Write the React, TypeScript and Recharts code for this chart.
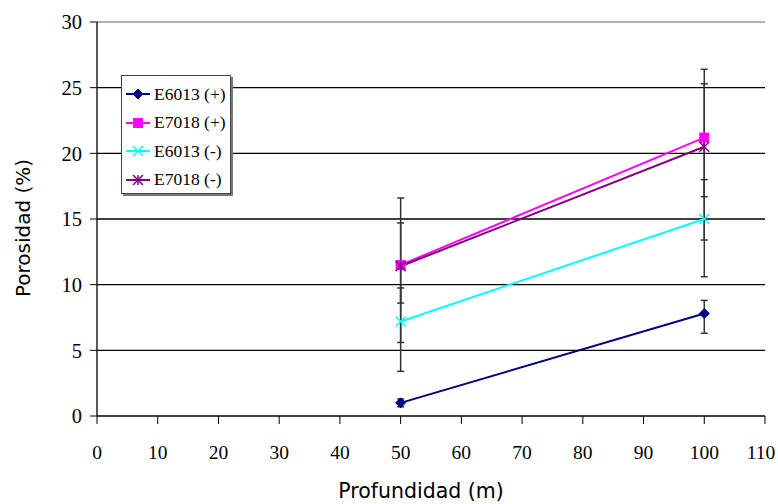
import React from 'react';
import { LineChart, Line, XAxis, YAxis, CartesianGrid, ErrorBar, ReferenceLine } from 'recharts';

const depths = [50, 100];
const e6013Pos = [1.0, 7.8];
const e7018Pos = [11.5, 21.2];
const e6013Neg = [7.2, 15.0];
const e7018Neg = [11.4, 20.5];
// [below, above]
const e6013PosErr = [[0.3, 0.3], [1.5, 1.0]];
const e7018PosErr = [[5.9, 5.1], [4.5, 5.2]];
const e6013NegErr = [[3.8, 2.55], [4.4, 3.0]];
const e7018NegErr = [[2.8, 3.3], [7.1, 4.8]];
const xTicks = [0, 10, 20, 30, 40, 50, 60, 70, 80, 90, 100, 110];
const yTicks = [0, 5, 10, 15, 20, 25, 30];
const seriesNames = ['E6013 (+)', 'E7018 (+)', 'E6013 (-)', 'E7018 (-)'];

const data = depths.map((d, i) => ({
  x: d,
  a: e6013Pos[i], ea: e6013PosErr[i],
  b: e7018Pos[i], eb: e7018PosErr[i],
  c: e6013Neg[i], ec: e6013NegErr[i],
  d: e7018Neg[i], ed: e7018NegErr[i],
}));

const NAVY = '#000080';
const MAGENTA = '#ff00ff';
const CYAN = '#00ffff';
const PURPLE = '#800080';
const SERIF = "'Liberation Serif', 'Times New Roman', 'DejaVu Serif', serif";
const SANS = "'DejaVu Sans', Verdana, sans-serif";

const Diamond = ({ cx, cy }: any) => (
  <polygon points={`${cx},${cy - 5} ${cx + 5},${cy} ${cx},${cy + 5} ${cx - 5},${cy}`} fill={NAVY} stroke={NAVY} />
);
const Square = ({ cx, cy }: any) => (
  <rect x={cx - 4.5} y={cy - 4.5} width={9} height={9} fill={MAGENTA} stroke={MAGENTA} />
);
const Cross = ({ cx, cy }: any) => (
  <g stroke={CYAN} strokeWidth={1.5}>
    <line x1={cx - 5} y1={cy - 5} x2={cx + 5} y2={cy + 5} />
    <line x1={cx - 5} y1={cy + 5} x2={cx + 5} y2={cy - 5} />
  </g>
);
const Star = ({ cx, cy }: any) => (
  <g stroke={PURPLE} strokeWidth={1.5}>
    <line x1={cx - 5} y1={cy - 5} x2={cx + 5} y2={cy + 5} />
    <line x1={cx - 5} y1={cy + 5} x2={cx + 5} y2={cy - 5} />
    <line x1={cx} y1={cy - 5} x2={cx} y2={cy + 5} />
  </g>
);

const markers = [Diamond, Square, Cross, Star];
const colors = [NAVY, MAGENTA, CYAN, PURPLE];

const LegendBox = () => (
  <div
    style={{
      position: 'absolute',
      left: 121,
      top: 75,
      background: '#fff',
      border: '1px solid #444',
      boxShadow: '2px 2px 0 #777',
      width: 110,
      height: 119,
      boxSizing: 'border-box',
      paddingTop: 4,
      fontFamily: SERIF,
      fontSize: 17.5,
      color: '#000',
    }}
  >
    {seriesNames.map((n, i) => {
      const M = markers[i];
      return (
        <div key={n} style={{ display: 'flex', alignItems: 'center', height: 28.5 }}>
          <svg width={28} height={14} style={{ marginLeft: 2, flexShrink: 0 }}>
            <line x1={2} y1={7} x2={26} y2={7} stroke={colors[i]} strokeWidth={2} />
            <M cx={14} cy={7} />
          </svg>
          <span style={{ marginLeft: 2, whiteSpace: 'nowrap' }}>{n}</span>
        </div>
      );
    })}
  </div>
);

const YLabel = () => (
  <text
    x={30}
    y={228}
    transform="rotate(-90 30 228)"
    textAnchor="middle"
    fontFamily={SANS}
    fontSize={20}
    fill="#000"
  >
    Porosidad (%)
  </text>
);

const XLabel = () => (
  <text x={421} y={498} textAnchor="middle" fontFamily={SANS} fontSize={20.5} fill="#000">
    Profundidad (m)
  </text>
);

const XTick = ({ x, y, payload }: any) => (
  <text
    x={x}
    y={y}
    dy="0.71em"
    dx={payload.value === 110 ? -4 : 0}
    textAnchor="middle"
    fill="#000"
    style={{ fontFamily: SERIF, fontSize: 19.5 }}
  >
    {payload.value}
  </text>
);
const YTick = ({ x, y, payload }: any) => (
  <text x={x} y={y} dy="0.355em" textAnchor="end" fill="#000" style={{ fontFamily: SERIF, fontSize: 20.5 }}>
    {payload.value}
  </text>
);

export default function App() {
  const keys = ['a', 'b', 'c', 'd'];
  return (
    <div style={{ position: 'absolute', left: 0, top: 0, width: 778, height: 504, background: '#fff' }}>
      <LineChart width={778} height={504} data={data} margin={{ top: 22, right: 13, bottom: 58, left: 37 }}>
        <CartesianGrid vertical={false} stroke="#000" strokeWidth={1.3} horizontalValues={[5, 10, 15, 20, 25]} />
        <ReferenceLine y={30} stroke="#999" strokeWidth={1.3} />
        <XAxis
          dataKey="x"
          type="number"
          domain={[0, 110]}
          ticks={xTicks}
          interval={0}
          tick={<XTick />}
          tickSize={8}
          tickMargin={21}
          height={30}
          axisLine={{ stroke: '#000', strokeWidth: 1.3 }}
          tickLine={{ stroke: '#000' }}
          label={<XLabel />}
        />
        <YAxis
          type="number"
          domain={[0, 30]}
          ticks={yTicks}
          interval={0}
          width={60}
          tick={<YTick />}
          tickSize={7}
          tickMargin={8}
          axisLine={{ stroke: '#000', strokeWidth: 1.3 }}
          tickLine={{ stroke: '#000' }}
          label={<YLabel />}
        />
        {keys.map((k, i) => {
          const M = markers[i];
          return (
            <Line
              key={k}
              dataKey={k}
              name={seriesNames[i]}
              stroke={colors[i]}
              strokeWidth={2}
              isAnimationActive={false}
              dot={(p: any) => <M key={`${k}-${p.index}`} cx={p.cx} cy={p.cy} />}
              activeDot={false}
            >
              <ErrorBar dataKey={`e${k}`} width={3.5} stroke="#333" strokeWidth={1.5} direction="y" />
            </Line>
          );
        })}
      </LineChart>
      <LegendBox />
    </div>
  );
}
